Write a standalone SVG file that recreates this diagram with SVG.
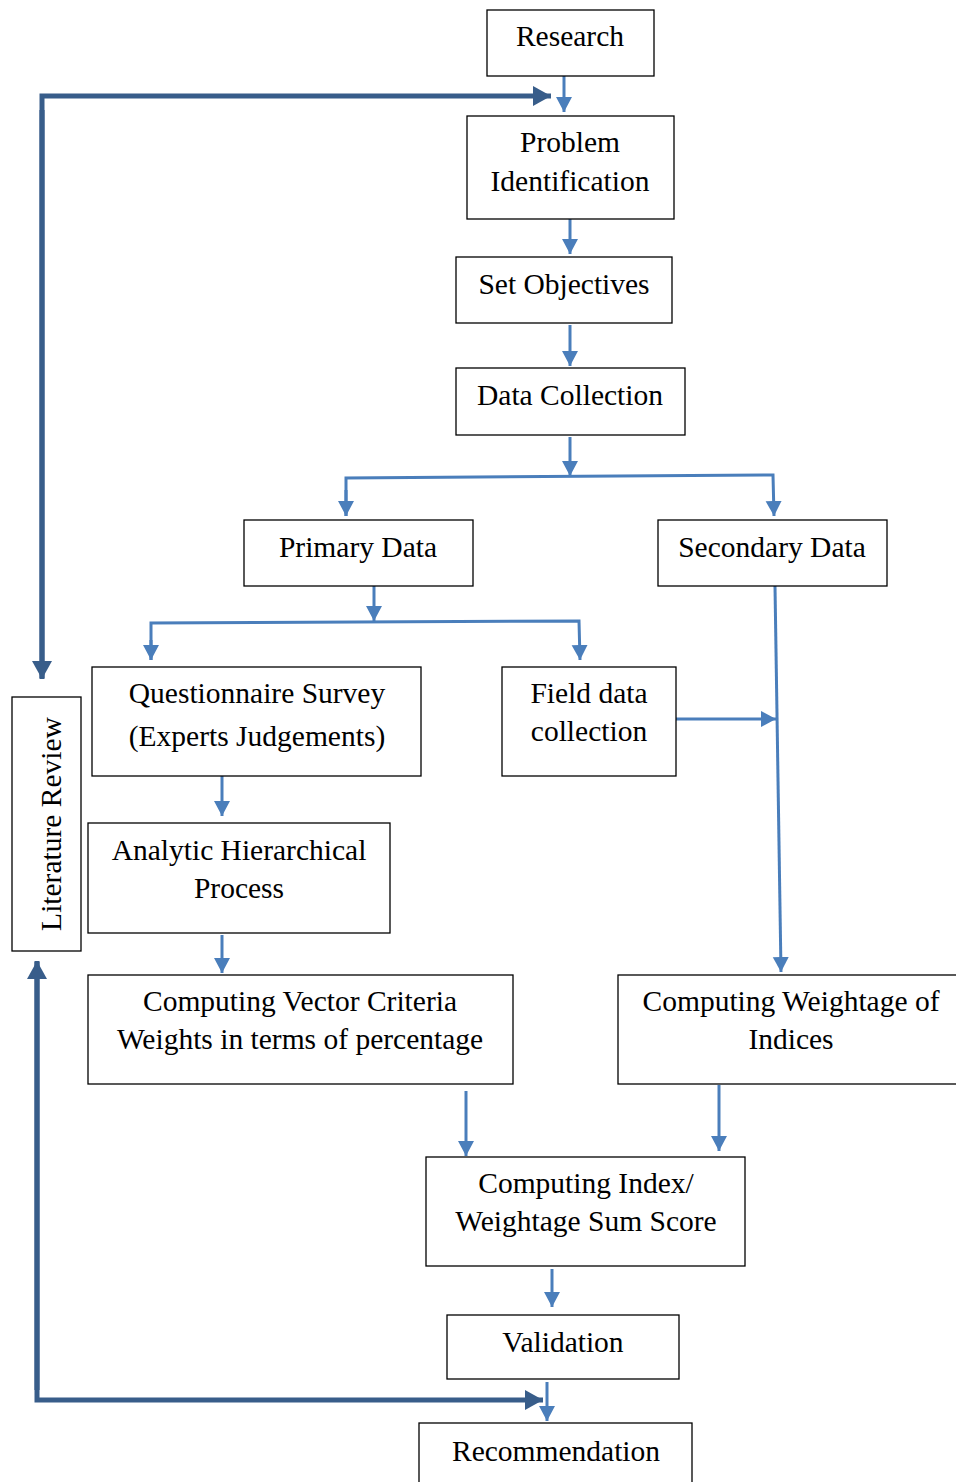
<svg xmlns="http://www.w3.org/2000/svg" width="956" height="1482" viewBox="0 0 956 1482">
<style>
.box{fill:#fff;stroke:#000;stroke-width:1.3}
.t{font-family:"Liberation Serif","Times New Roman",serif;font-size:29.5px;fill:#000;text-anchor:middle}
.c{fill:none;stroke:#4A7EBB;stroke-width:3}
.d{fill:none;stroke:#385D8A;stroke-width:5}
</style>
<defs>
<marker id="la" markerUnits="userSpaceOnUse" markerWidth="18" markerHeight="18" refX="15" refY="8" orient="auto"><path d="M0,0 L15,8 L0,16 z" fill="#4A7EBB"/></marker>
<marker id="da" markerUnits="userSpaceOnUse" markerWidth="22" markerHeight="22" refX="18" refY="10" orient="auto"><path d="M0,0 L18,10 L0,20 z" fill="#385D8A"/></marker>
</defs>
<rect width="956" height="1482" fill="#fff"/>
<g id="connectors">
<line class="c" x1="564" y1="76" x2="564" y2="112" marker-end="url(#la)"/>
<line class="c" x1="570" y1="219" x2="570" y2="254" marker-end="url(#la)"/>
<line class="c" x1="570" y1="325" x2="570" y2="366" marker-end="url(#la)"/>
<line class="c" x1="570" y1="437" x2="570" y2="476" marker-end="url(#la)"/>
<polyline class="c" points="346,516 346,478 773,475 774,516" marker-end="url(#la)"/>
<line class="c" x1="346" y1="490" x2="346" y2="516" marker-end="url(#la)"/>
<line class="c" x1="374" y1="586" x2="374" y2="621" marker-end="url(#la)"/>
<polyline class="c" points="151,660 151,623 579,621 580,660" marker-end="url(#la)"/>
<line class="c" x1="151" y1="640" x2="151" y2="660" marker-end="url(#la)"/>
<line class="c" x1="775" y1="586" x2="781" y2="972" marker-end="url(#la)"/>
<line class="c" x1="676" y1="719" x2="776" y2="719" marker-end="url(#la)"/>
<line class="c" x1="222" y1="776" x2="222" y2="816" marker-end="url(#la)"/>
<line class="c" x1="222" y1="935" x2="222" y2="973" marker-end="url(#la)"/>
<line class="c" x1="466" y1="1091" x2="466" y2="1156" marker-end="url(#la)"/>
<line class="c" x1="719" y1="1085" x2="719" y2="1151" marker-end="url(#la)"/>
<line class="c" x1="552" y1="1269" x2="552" y2="1307" marker-end="url(#la)"/>
<polyline class="d" points="42,678 42,96 551,96" marker-end="url(#da)"/>
<line class="d" x1="42" y1="110" x2="42" y2="679" marker-end="url(#da)"/>
<polyline class="d" points="37,962 37,1400 543,1400" marker-end="url(#da)"/>
<line class="d" x1="37" y1="1390" x2="37" y2="961" marker-end="url(#da)"/>
<line class="c" x1="547" y1="1382" x2="547" y2="1421" marker-end="url(#la)"/>
</g>
<g id="research"><rect class="box" x="487" y="10" width="167" height="66"/><text class="t" x="570" y="46">Research</text></g>
<g id="problem"><rect class="box" x="467" y="116" width="207" height="103"/><text class="t" x="570" y="152">Problem</text><text class="t" x="570" y="191">Identification</text></g>
<g id="objectives"><rect class="box" x="456" y="257" width="216" height="66"/><text class="t" x="564" y="294">Set Objectives</text></g>
<g id="datacollection"><rect class="box" x="456" y="368" width="229" height="67"/><text class="t" x="570" y="405">Data Collection</text></g>
<g id="primary"><rect class="box" x="244" y="520" width="229" height="66"/><text class="t" x="358" y="557">Primary Data</text></g>
<g id="secondary"><rect class="box" x="658" y="520" width="229" height="66"/><text class="t" x="772" y="557">Secondary Data</text></g>
<g id="questionnaire"><rect class="box" x="92" y="667" width="329" height="109"/><text class="t" x="257" y="703">Questionnaire Survey</text><text class="t" x="257" y="746">(Experts Judgements)</text></g>
<g id="field"><rect class="box" x="502" y="667" width="174" height="109"/><text class="t" x="589" y="703">Field data</text><text class="t" x="589" y="741">collection</text></g>
<g id="literature"><rect class="box" x="12" y="697" width="69" height="254"/><text class="t" transform="translate(61,824) rotate(-90)" x="0" y="0">Literature Review</text></g>
<g id="ahp"><rect class="box" x="88" y="823" width="302" height="110"/><text class="t" x="239" y="860">Analytic Hierarchical</text><text class="t" x="239" y="898">Process</text></g>
<g id="vector"><rect class="box" x="88" y="975" width="425" height="109"/><text class="t" x="300" y="1011">Computing Vector Criteria</text><text class="t" x="300" y="1049">Weights in terms of percentage</text></g>
<g id="weightage"><rect class="box" x="618" y="975" width="345" height="109"/><text class="t" x="791" y="1011">Computing Weightage of</text><text class="t" x="791" y="1049">Indices</text></g>
<g id="index"><rect class="box" x="426" y="1157" width="319" height="109"/><text class="t" x="586" y="1193">Computing Index/</text><text class="t" x="586" y="1231">Weightage Sum Score</text></g>
<g id="validation"><rect class="box" x="447" y="1315" width="232" height="64"/><text class="t" x="563" y="1352">Validation</text></g>
<g id="recommendation"><rect class="box" x="419" y="1423" width="273" height="70"/><text class="t" x="556" y="1461">Recommendation</text></g>
</svg>
